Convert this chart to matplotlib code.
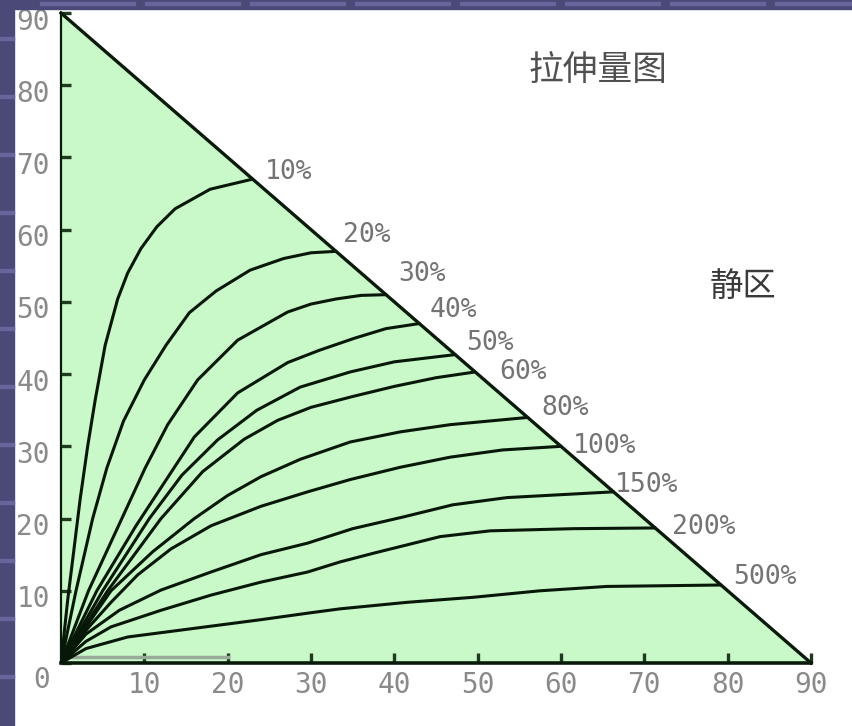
import matplotlib
matplotlib.use("Agg")
import matplotlib.pyplot as plt
import matplotlib.transforms as mtransforms
from matplotlib.patches import Polygon, Rectangle

plt.rcParams['font.family'] = ['DejaVu Sans', 'Noto Sans CJK SC']

# curve labels
labels = ["10%", "20%", "30%", "40%", "50%", "60%", "80%", "100%", "150%", "200%", "500%"]

# each curve, origin -> end point on the hypotenuse
c10_x = [0, 0.8, 2.3, 3.2, 4.1, 5.3, 6.8, 8.0, 9.6, 11.5, 13.7, 17.9, 23.0]
c10_y = [0, 8.7, 22.7, 30.0, 36.4, 44.0, 50.4, 54.0, 57.4, 60.4, 62.9, 65.6, 67.0]
c20_x = [0, 1.8, 3.8, 5.5, 7.5, 10.0, 12.6, 15.4, 18.6, 22.7, 26.7, 30.0, 33.0]
c20_y = [0, 10, 20, 27, 33.5, 39.2, 44.0, 48.5, 51.5, 54.4, 56.0, 56.8, 57.0]
c30_x = [0, 3.3, 7.3, 10.1, 12.8, 16.4, 21.2, 27.2, 30.0, 33.0, 36.0, 39.0]
c30_y = [0, 10, 20, 27.0, 33.0, 39.2, 44.7, 48.6, 49.7, 50.4, 50.9, 51.0]
c40_x = [0, 4.3, 9.0, 12.3, 16.0, 21.2, 27.2, 31.0, 35.3, 39.0, 43.0]
c40_y = [0, 10, 19.0, 24.8, 31.3, 37.4, 41.6, 43.3, 45.0, 46.3, 47.0]
c50_x = [0, 5.0, 10.6, 14.5, 18.8, 23.5, 28.7, 34.7, 40.0, 47.3]
c50_y = [0, 10, 20, 26, 30.9, 35.0, 38.2, 40.3, 41.7, 42.7]
c60_x = [0, 5.6, 12.0, 17.0, 22.0, 26.0, 30.0, 35.0, 40.0, 45.0, 49.7]
c60_y = [0, 10, 20, 26.5, 31.0, 33.6, 35.4, 36.9, 38.3, 39.5, 40.3]
c80_x = [0, 6.0, 11.0, 16.0, 20.0, 24.0, 28.7, 34.7, 40.7, 46.7, 56.0]
c80_y = [0, 10, 15.4, 20, 23.2, 25.8, 28.2, 30.6, 32.0, 33.0, 34.0]
c100_x = [0, 3.2, 6.0, 9.2, 13.2, 18.0, 24.0, 29.6, 34.7, 40.7, 46.7, 53.0, 60.0]
c100_y = [0, 4.8, 8.4, 12.2, 15.8, 19.0, 21.7, 23.7, 25.4, 27.1, 28.5, 29.5, 30.0]
c150_x = [0, 3.0, 7.0, 12.0, 18.0, 24.0, 29.6, 35.0, 41.0, 47.0, 53.5, 61.5, 66.3]
c150_y = [0, 4.0, 7.3, 10.1, 12.6, 15.0, 16.6, 18.6, 20.2, 21.9, 22.9, 23.4, 23.7]
c200_x = [0, 3.0, 6.0, 12.0, 18.0, 24.0, 29.6, 33.5, 37.5, 45.5, 51.5, 61.5, 71.3]
c200_y = [0, 3.0, 5.0, 7.3, 9.4, 11.2, 12.6, 14.0, 15.2, 17.5, 18.3, 18.6, 18.7]
c500_x = [0, 3.0, 8.0, 16.0, 24.0, 29.6, 33.5, 41.5, 49.5, 57.5, 65.5, 79.2]
c500_y = [0, 2.0, 3.6, 4.8, 6.0, 6.9, 7.5, 8.4, 9.1, 10.0, 10.6, 10.8]

curves = [(c10_x, c10_y), (c20_x, c20_y), (c30_x, c30_y), (c40_x, c40_y),
          (c50_x, c50_y), (c60_x, c60_y), (c80_x, c80_y), (c100_x, c100_y),
          (c150_x, c150_y), (c200_x, c200_y), (c500_x, c500_y)]

ticks = [0, 10, 20, 30, 40, 50, 60, 70, 80, 90]
title_text = "拉伸量图"
zone_text = "静区"

# where each label sits relative to its curve end (points)
label_offsets = [(9, 5), (5, 11.5), (9, 15), (7.5, 10), (8, 8), (17, 0), (10, 7),
                 (8.5, 0), (1, 5), (12, 0.5), (8.5, 6)]

fig = plt.figure(figsize=(8.53, 7.26), dpi=100, facecolor='white')

# slide background strips on the left and top
fig.patches.append(Rectangle((0, 0), 14 / 853, 1, transform=fig.transFigure,
                             color='#4b4978', zorder=0))
fig.patches.append(Rectangle((0, 1 - 9 / 726), 1, 9 / 726, transform=fig.transFigure,
                             color='#4b4978', zorder=0))
for yy in range(40, 726, 58):
    fig.patches.append(Rectangle((0, 1 - yy / 726), 14 / 853, 3 / 726,
                                 transform=fig.transFigure, color='#67659a', zorder=0))
for xx in range(40, 853, 105):
    fig.patches.append(Rectangle((xx / 853, 1 - 5 / 726), 95 / 853, 3 / 726,
                                 transform=fig.transFigure, color='#67659a', zorder=0))

ax = fig.add_axes([61 / 853, 63 / 726, 750 / 853, 650 / 726])
ax.set_xlim(0, 90)
ax.set_ylim(0, 90)
ax.patch.set_alpha(0)

# light green triangle
ax.add_patch(Polygon([(0, 0), (0, 90), (90, 0)], closed=True,
                     facecolor='#c9f8c9', edgecolor='none', zorder=1))
ax.plot([0, 90], [90, 0], color='#0a1a0a', lw=2.4, zorder=4, clip_on=False)
ax.plot([1, 20], [0.9, 0.9], color='#9aaa9a', lw=2.5, zorder=2)

for (cx, cy), lab, off in zip(curves, labels, label_offsets):
    ax.plot(cx, cy, color='#081808', lw=2.2, zorder=3, solid_capstyle='round',
            solid_joinstyle='round')
    ax.annotate(lab, (cx[-1], cy[-1]), xytext=off, textcoords='offset points',
                ha='left', va='center', fontsize=19, color='#747474',
                family='DejaVu Sans Mono')

ax.text(64.4, 82.1, title_text, fontsize=25, color='#505050', ha='center', va='center',
        family=['Noto Sans CJK SC', 'DejaVu Sans'])
ax.text(81.8, 52.2, zone_text, fontsize=24, color='#3a3a3a', ha='center', va='center',
        family=['Noto Sans CJK SC', 'DejaVu Sans'])

for s in ['top', 'right']:
    ax.spines[s].set_visible(False)
ax.spines['left'].set_linewidth(1.6)
ax.spines['bottom'].set_linewidth(2.6)
ax.spines['left'].set_color('#0a1a0a')
ax.spines['bottom'].set_color('#0a1a0a')

ax.set_yticks(ticks)
ax.set_yticklabels([str(t) for t in ticks], family='DejaVu Sans Mono')
ax.set_xticks(ticks[1:])
ax.set_xticklabels([str(t) for t in ticks[1:]], family='DejaVu Sans Mono')
ax.tick_params(axis='both', direction='in', length=7, width=2.4, color='#1f3a1f',
               labelsize=20, labelcolor='#8a8a8a')
ax.tick_params(axis='y', pad=8)
ax.tick_params(axis='x', pad=6)

# y labels sit a little below their ticks in the original, the 0 more so
for t, lbl in zip(ticks, ax.get_yticklabels()):
    dy = -10 / 72 if t == 0 else -4 / 72
    lbl.set_transform(lbl.get_transform() +
                      mtransforms.ScaledTranslation(0, dy, fig.dpi_scale_trans))

fig.savefig('out.png', dpi=100, facecolor='white')
